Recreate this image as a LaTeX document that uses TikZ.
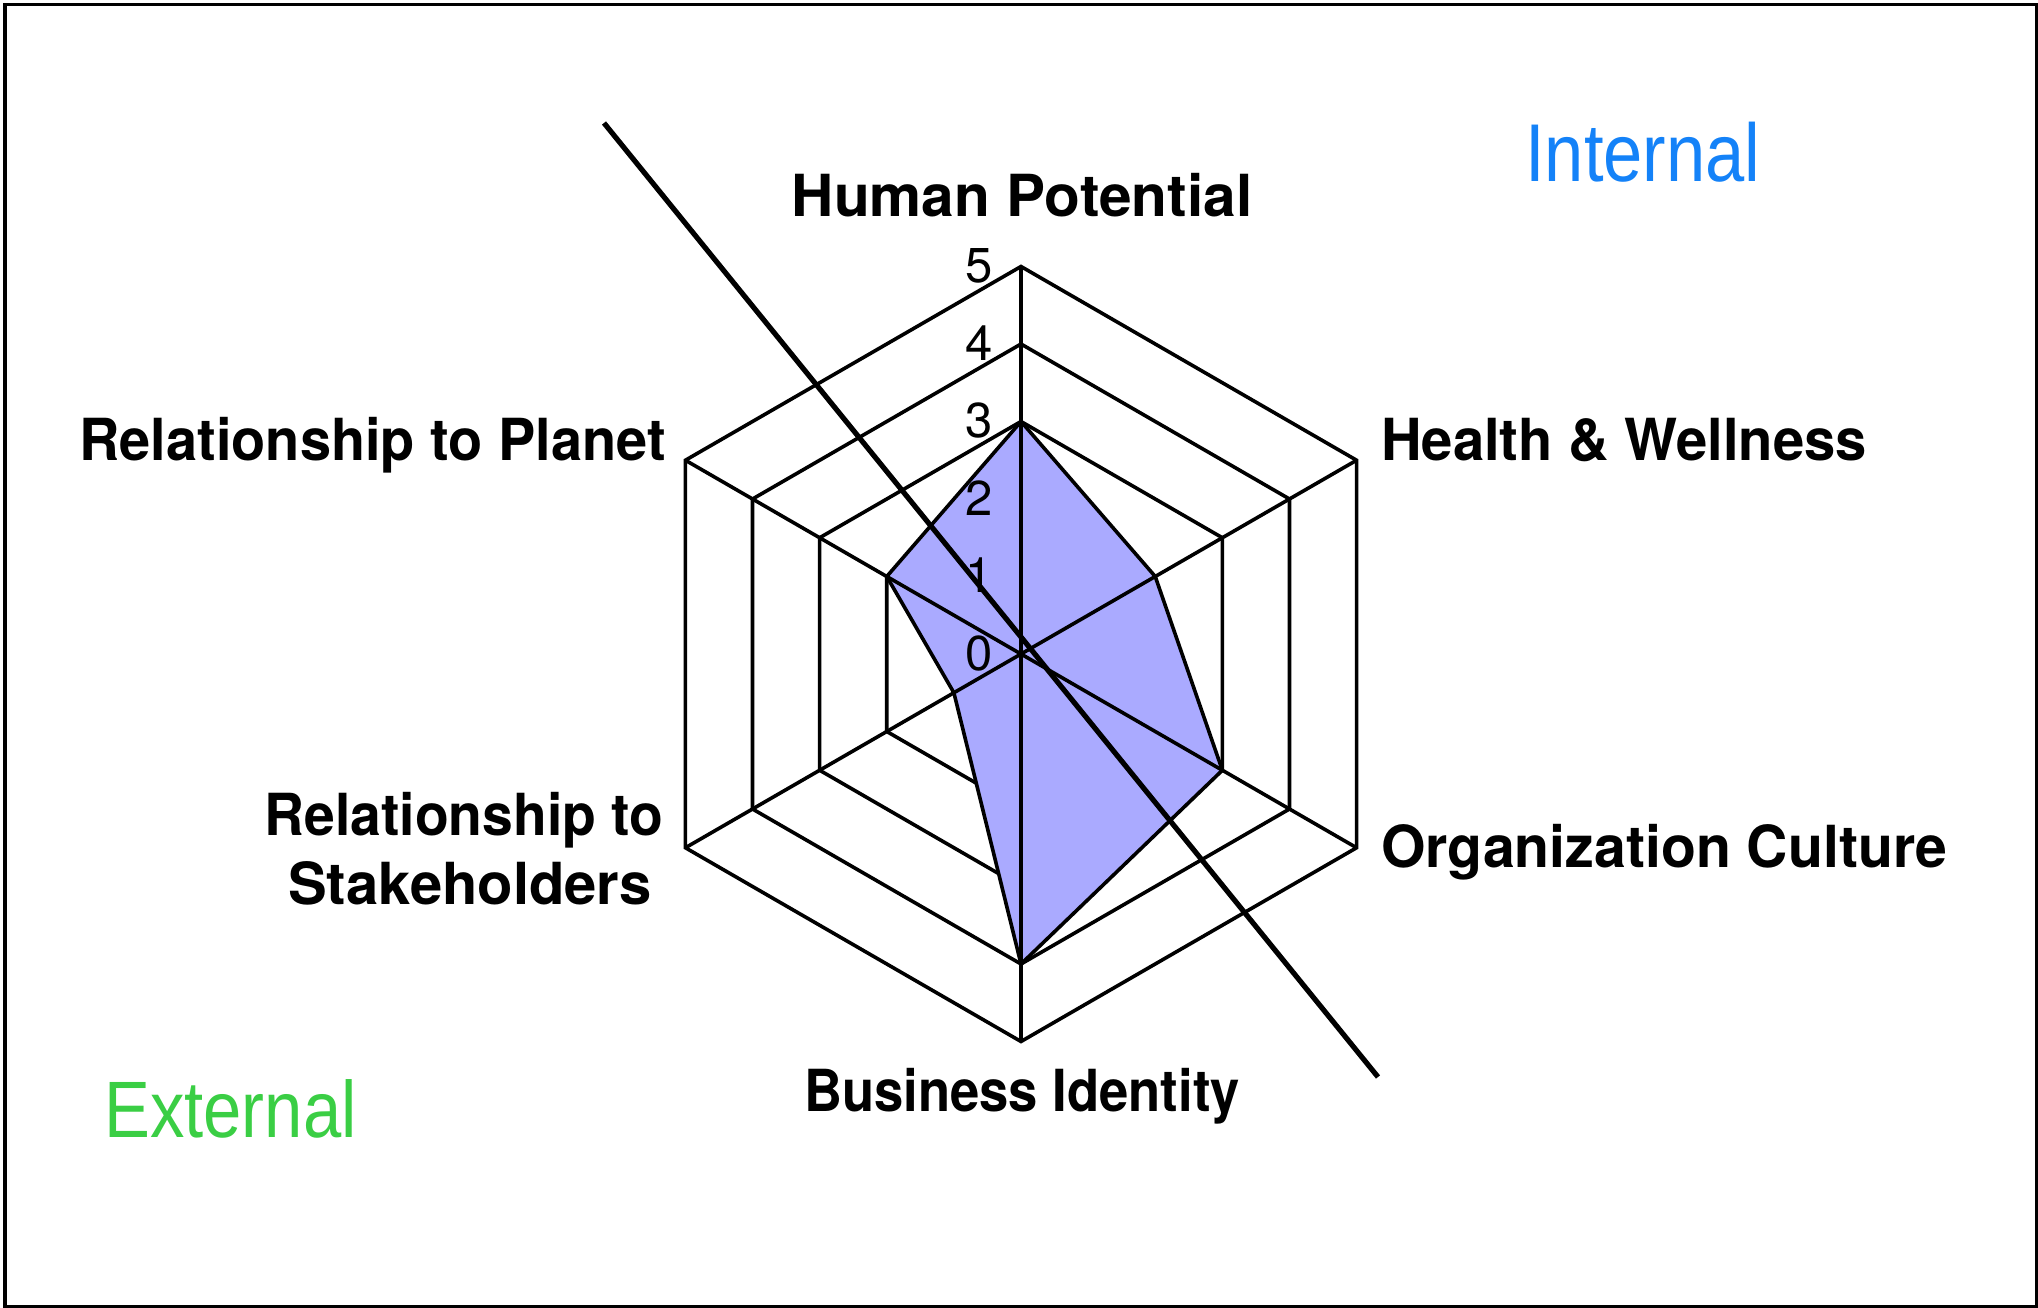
\documentclass[tikz,border=0pt]{standalone}
\usepackage{fontspec}
\setmainfont{TeX Gyre Heros}
\newfontfamily\lightfont[FakeStretch=0.86]{Liberation Sans}
\definecolor{fillc}{RGB}{170,170,255}
\definecolor{intc}{RGB}{20,130,248}
\definecolor{extc}{RGB}{58,206,68}
\begin{document}
\begin{tikzpicture}[x=1pt,y=-1pt,line join=miter,
  gridline/.style={line width=3.6pt,black},
  bigline/.style={line width=5.2pt,black},
  axislabel/.style={font=\fontsize{58}{70}\selectfont\bfseries,inner sep=0pt},
  ticklabel/.style={font=\fontsize{49}{56}\selectfont,inner sep=0pt,anchor=base east},
  zonelabel/.style={inner sep=0pt,anchor=base west}]
\useasboundingbox (0,0) rectangle (2038,1308);
\draw[line width=3.5pt] (5,4.5) rectangle (2036.5,1306.5);
\def\cx{1021}\def\cy{654}\def\u{77.5}
% rings
\foreach \l in {1,...,5}{
  \draw[gridline] ({\cx},{\cy-\l*\u})
    \foreach \a in {30,-30,-90,-150,150}{ -- ({\cx+\l*\u*cos(\a)},{\cy-\l*\u*sin(\a)})} -- cycle;
}
% data points
\coordinate (c) at (\cx,\cy);
\coordinate (d1) at ({\cx+3*\u*cos(90)},{\cy-3*\u*sin(90)});
\coordinate (d2) at ({\cx+2*\u*cos(30)},{\cy-2*\u*sin(30)});
\coordinate (d3) at ({\cx+3*\u*cos(-30)},{\cy-3*\u*sin(-30)});
\coordinate (d4) at ({\cx+4*\u*cos(-90)},{\cy-4*\u*sin(-90)});
\coordinate (d5) at ({\cx+1*\u*cos(-150)},{\cy-1*\u*sin(-150)});
\coordinate (d6) at ({\cx+2*\u*cos(150)},{\cy-2*\u*sin(150)});
\fill[fillc] (d1) -- (d2) -- (d3) -- (d4) -- (d5) -- (d6) -- cycle;
% spokes
\foreach \a in {90,30,-30,-90,-150,150}{
  \draw[gridline] (c) -- ({\cx+5*\u*cos(\a)},{\cy-5*\u*sin(\a)});
}
\draw[gridline] (d1) -- (d2) -- (d3) -- (d4) -- (d5) -- (d6) -- cycle;
% tick labels
\foreach \l in {0,...,5}{
  \node[ticklabel] (t\l) at (993,{\cy-\l*\u+16}) {\l};
}
% divider line
\coordinate (la) at (604,123);
\coordinate (lb) at (1378,1077);
\draw[bigline] (la) -- (lb);
% axis labels
\node[axislabel,anchor=base] (hp) at (1022,217) {\scalebox{1.01}[1]{Human Potential}};
\node[axislabel,anchor=base west] (hw) at (1381,460) {\scalebox{0.969}[1]{Health \& Wellness}};
\node[axislabel,anchor=base west] (oc) at (1381,867) {\scalebox{0.986}[1]{Organization Culture}};
\node[axislabel,anchor=base] (bi) at (1022,1111) {\scalebox{0.907}[1]{Business Identity}};
\node[axislabel,anchor=base east] (rp) at (666,460) {\scalebox{0.964}[1]{Relationship to Planet}};
\node[axislabel,anchor=base] (rs1) at (464,835) {\scalebox{0.953}[1]{Relationship to}};
\node[axislabel,anchor=base] (rs2) at (470,904) {Stakeholders};
% zone labels
\node[zonelabel,font=\lightfont\fontsize{82}{90}\selectfont,text=intc] (int) at (1525,182) {Internal};
\node[zonelabel,font=\lightfont\fontsize{80}{90}\selectfont,text=extc] (ext) at (104,1137) {External};
\end{tikzpicture}
\end{document}
